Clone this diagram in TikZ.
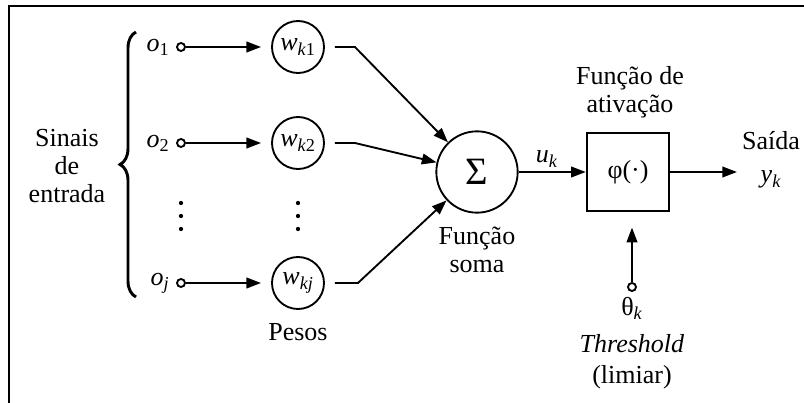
\documentclass[tikz,border=0pt]{standalone}
\usepackage{fontspec}
\setmainfont{Liberation Serif}
\usepackage{amsmath}
\usetikzlibrary{arrows.meta,positioning,decorations.pathreplacing}

\tikzset{
  wcirc/.style={draw, circle, line width=1.4pt, minimum size=39pt, inner sep=0pt},
  pinc/.style={draw, circle, line width=1.4pt, minimum size=6pt, inner sep=0pt, fill=white},
  conn/.style={line width=1.4pt, -{Triangle[length=11pt,width=8pt]}},
  txt/.style={inner sep=0.75pt, align=center},
}
\newcommand{\sym}[2]{\textit{#1}$_{\textnormal{#2}}$}

\begin{document}
\begin{tikzpicture}[x=0.75pt,y=0.75pt,yscale=-1,xscale=1,font=\fontsize{19.5}{21}\selectfont]
    \useasboundingbox (0,0) rectangle (804,403);
    %Frame
    \draw [line width=1.6pt] (9,403) -- (9,6) -- (804,6) ;
    
    %Shape: Brace
    \draw [line width=2.2pt, decorate, decoration={brace, amplitude=12pt}] (136,297) -- (136,32) ;
    % Text Node
    \node [txt] (entrada) at (67,166) {Sinais\\de\\entrada};
    
    %Shape: Circle
    \node [pinc] (i1) at (181,47) {};
    \node [pinc] (i2) at (181,143) {};
    \node [pinc] (ij) at (181,283) {};
    %Shape: Circle
    \node [wcirc] (w1) at (298,47) {\sym{w}{\textit{k}1}};
    \node [wcirc] (w2) at (298,143) {\sym{w}{\textit{k}2}};
    \node [wcirc] (wj) at (298,283) {\sym{w}{\textit{kj}}};
    
    % Text Node
    \node [txt, left=4pt of i1] (o1) {\sym{o}{1}};
    \node [txt, left=4pt of i2] (o2) {\sym{o}{2}};
    \node [txt, left=4pt of ij] (oj) {\sym{o}{\textit{j}}};
    \node [txt, below=9pt of wj] (pesos) {Pesos};
    
    %Shape: Dots
    \foreach \y in {203,216,229} {
      \fill (181,\y) circle (1.6pt) ;
      \fill (298,\y) circle (1.6pt) ;
    }
    
    %Shape: Circle
    \node [draw, circle, line width=1.4pt, minimum size=61pt, inner sep=0pt] (sum) at (477,172) {\fontsize{29}{30}\selectfont Σ};
    %Shape: Rectangle
    \node [draw, line width=1.4pt, minimum width=62pt, minimum height=58pt, inner sep=0pt] (act) at (628,172) {φ(·)};
    %Shape: Circle
    \node [pinc] (th) at (632,287) {};
    \coordinate (yout) at (737,172);
    
    % Text Node
    \node [txt] (fsoma) at (477,250) {Função\\soma};
    \node [txt] (fativ) at (630,92) {Função de\\ativação};
    \node [txt] (saida) at (771,160) {Saída\\[4pt]\sym{y}{\textit{k}}};
    \node [txt] (limiar) at (632,343) {θ$_{\textnormal{\textit{k}}}$\\[7pt]\textit{Threshold}\\[2pt](limiar)};
    
    %Straight Lines
    \draw [conn, shorten >=7.5pt] (i1) -- (w1) ;
    \draw [conn, shorten >=7.5pt] (i2) -- (w2) ;
    \draw [conn, shorten >=7.5pt] (ij) -- (wj) ;
    \draw [conn] ([xshift=7.5pt]w1.east) -- ++(20,0) -- (sum) ;
    \draw [conn] ([xshift=7.5pt]w2.east) -- ++(20,0) -- (sum) ;
    \draw [conn] ([xshift=7.5pt]wj.east) -- ++(23,0) -- (sum) ;
    \draw [conn] (sum) -- node [pos=0.42, above, inner sep=3pt] {\sym{u}{\textit{k}}} (act) ;
    \draw [conn] (act) -- (yout) ;
    \draw [conn, shorten >=12pt] (th) -- (th |- act.south) ;
    
\end{tikzpicture}
\end{document}
